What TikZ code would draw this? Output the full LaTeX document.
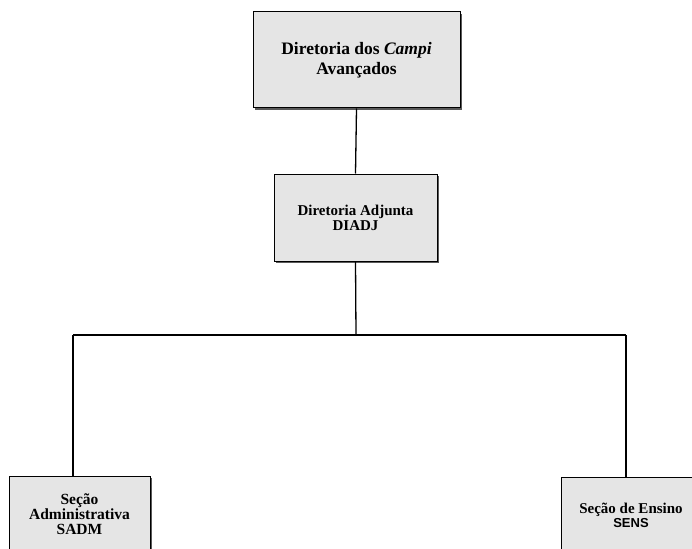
\documentclass[tikz,border=0pt]{standalone}
\usepackage{fontspec}
\setmainfont{Liberation Serif}
\newfontfamily\sensfont{Liberation Sans}
\usetikzlibrary{shadows}
\tikzset{
  orgbox/.style={draw=black, line width=1pt, fill=black!10, align=center,
    font=\bfseries, inner sep=0pt,
    drop shadow={shadow xshift=1.6pt, shadow yshift=-1.6pt, fill=black!65, opacity=1}},
  link/.style={draw=black, line width=1.3pt}
}
\begin{document}
\begin{tikzpicture}[x=1pt,y=-1pt]
\useasboundingbox (0,0) rectangle (692,548);
\clip (0,0) rectangle (692,548);
\fill[white] (0,0) rectangle (692,548);
\node[orgbox, minimum width=207pt, minimum height=96pt,
  font=\bfseries\fontsize{17.5}{19.5}\selectfont] (dir) at (356.5,60)
  {Diretoria dos \textit{Campi}\\Avançados};
\node[orgbox, minimum width=163pt, minimum height=87pt,
  font=\bfseries\fontsize{15}{15}\selectfont] (diadj) at (355.5,217.5)
  {Diretoria Adjunta\\DIADJ};
\node[orgbox, minimum width=141pt, minimum height=76pt,
  font=\bfseries\fontsize{15.5}{15}\selectfont] (sadm) at (79.5,514)
  {Seção\\Administrativa\\SADM};
\node[orgbox, minimum width=140pt, minimum height=76pt,
  font=\bfseries\fontsize{15}{14}\selectfont] (sens) at (631,515)
  {Seção de Ensino\\{\sensfont\fontsize{13}{14}\selectfont SENS}};
\coordinate (j) at (356,335);
\coordinate (jl) at (73,335);
\coordinate (jr) at (626,335);
\draw[link] (dir.south) -- (diadj.north);
\draw[link] (diadj.south) -- (j);
\draw[link] (jl) -- (jr);
\draw[link] (jl) -- (jl |- sadm.north);
\draw[link] (jr) -- (jr |- sens.north);
\end{tikzpicture}
\end{document}
